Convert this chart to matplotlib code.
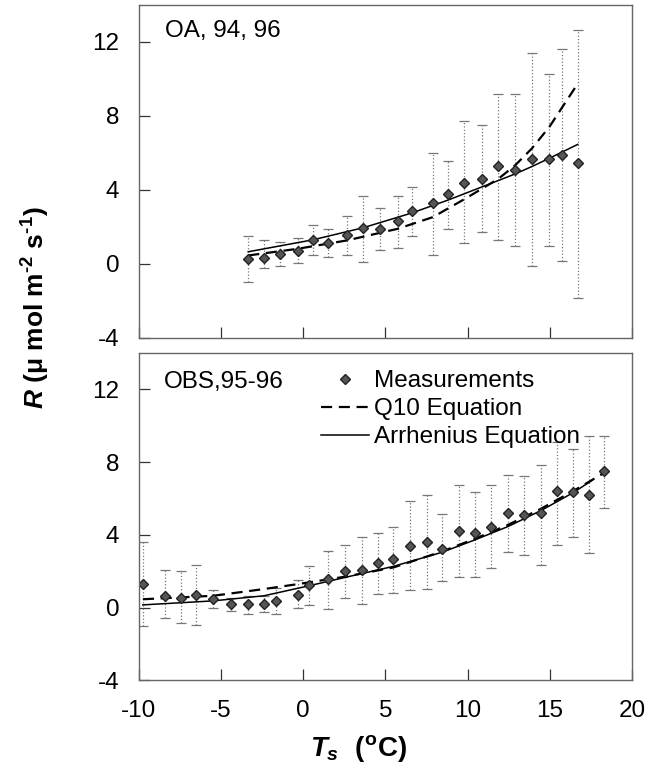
import numpy as np
import matplotlib
matplotlib.use('Agg')
import matplotlib.pyplot as plt

plt.rcParams['font.family'] = ['Liberation Sans', 'DejaVu Sans']
plt.rcParams['axes.unicode_minus'] = False
plt.rcParams['mathtext.fontset'] = 'custom'
plt.rcParams['mathtext.rm'] = 'Liberation Sans:bold'
plt.rcParams['mathtext.bf'] = 'Liberation Sans:bold'
plt.rcParams['mathtext.it'] = 'Liberation Sans:italic:bold'
plt.rcParams['mathtext.sf'] = 'Liberation Sans:bold'

# --- OA, 94, 96 (top panel) ---
oa_t = [-3.35, -2.37, -1.42, -0.34, 0.61, 1.52, 2.64, 3.65, 4.67, 5.74, 6.62,
        7.88, 8.83, 9.78, 10.86, 11.87, 12.88, 13.9, 14.97, 15.73, 16.7]
oa_r = [0.27, 0.34, 0.54, 0.70, 1.30, 1.12, 1.57, 1.93, 1.89, 2.31, 2.83,
        3.30, 3.75, 4.36, 4.59, 5.26, 5.08, 5.64, 5.68, 5.89, 5.44]
oa_hi = [1.5, 1.31, 1.2, 1.39, 2.07, 1.89, 2.56, 3.69, 3.01, 3.64, 4.14,
         6.0, 5.53, 7.69, 7.48, 9.15, 9.15, 11.39, 10.23, 11.58, 12.65]
oa_lo = [-0.96, -0.23, -0.14, 0.05, 0.49, 0.36, 0.49, 0.12, 0.77, 0.85, 1.5,
         0.45, 1.89, 1.12, 1.71, 1.30, 0.96, -0.14, 0.96, 0.15, -1.84]

oa_arr_t = [-3.35, 0.61, 3.65, 6.62, 8.83, 10.86, 12.88, 13.9, 14.97, 16.7]
oa_arr_r = [0.65, 1.30, 1.95, 2.75, 3.45, 4.15, 4.85, 5.25, 5.7, 6.45]
oa_q10_t = [-3.35, -0.34, 2.64, 5.74, 7.88, 9.84, 10.86, 11.87, 12.88, 13.9, 14.97, 16.7]
oa_q10_r = [0.45, 0.81, 1.26, 1.89, 2.52, 3.51, 4.05, 4.59, 5.31, 6.22, 7.39, 9.73]

# --- OBS, 95-96 (bottom panel) ---
obs_t = [-9.76, -8.39, -7.42, -6.50, -5.49, -4.37, -3.35, -2.40, -1.67, -0.35,
         0.35, 1.48, 2.54, 3.55, 4.53, 5.49, 6.52, 7.52, 8.43, 9.49, 10.43,
         11.42, 12.46, 13.46, 14.47, 15.41, 16.42, 17.38, 18.29]
obs_r = [1.29, 0.65, 0.55, 0.68, 0.46, 0.22, 0.22, 0.22, 0.37, 0.70,
         1.25, 1.57, 2.03, 2.08, 2.43, 2.67, 3.37, 3.59, 3.23, 4.24, 4.09,
         4.42, 5.19, 5.07, 5.19, 6.41, 6.35, 6.17, 7.50]
obs_hi = [3.59, 2.07, 1.99, 2.34, 0.96, 0.55, 0.65, 0.63, 1.10, 1.51,
          2.30, 3.13, 3.46, 3.87, 4.11, 4.42, 5.86, 6.21, 5.16, 6.72, 6.35,
          6.72, 7.31, 7.22, 7.87, 9.12, 8.71, 9.43, 9.43]
obs_lo = [-1.01, -0.59, -0.85, -0.96, -0.04, -0.18, -0.33, -0.24, -0.37, 0.0,
          0.15, -0.09, 0.52, 0.22, 0.77, 0.83, 0.96, 1.02, 1.44, 1.66, 1.71,
          2.18, 3.04, 2.91, 2.34, 3.46, 3.87, 2.98, 5.47]

obs_arr_t = [-9.76, -5.49, -2.40, 0.35, 2.54, 5.49, 8.43, 10.43, 12.46, 14.47, 16.42, 17.58]
obs_arr_r = [0.15, 0.37, 0.65, 1.2, 1.66, 2.27, 3.04, 3.72, 4.46, 5.34, 6.32, 7.0]
obs_q10_t = [-9.76, -5.49, -2.40, -0.35, 2.54, 5.49, 8.43, 10.43, 12.46, 14.47, 16.42, 18.29]
obs_q10_r = [0.46, 0.65, 1.02, 1.29, 1.70, 2.21, 3.08, 3.78, 4.55, 5.44, 6.41, 7.40]

xticks = [-10, -5, 0, 5, 10, 15, 20]
yticks = [-4, 0, 4, 8, 12]

fs = 17.5
fig = plt.figure(figsize=(6.68, 7.82), dpi=100)
ax1 = fig.add_axes([0.208, 0.568, 0.738, 0.426])
ax2 = fig.add_axes([0.208, 0.130, 0.738, 0.4185])


def panel(ax, t, r, lo, hi, at, ar, qt, qr):
    r = np.array(r)
    yerr = [r - np.array(lo), np.array(hi) - r]
    eb = ax.errorbar(t, r, yerr=yerr, fmt='none', ecolor='#777777',
                     elinewidth=0.9, capsize=3.5, capthick=0.9)
    eb[2][0].set_linestyle(':')
    ax.plot(qt, qr, color='black', lw=1.6, ls=(0, (5, 3)), label='Q10 Equation')
    ax.plot(at, ar, color='black', lw=1.1, label='Arrhenius Equation')
    ax.plot(t, r, ls='none', marker='D', ms=5, mfc='#555555', mec='#222222',
            mew=1.0, label='Measurements')
    ax.set_xlim(-10, 20)
    ax.set_ylim(-4, 14)
    ax.set_xticks(xticks)
    ax.set_yticks(yticks)
    ax.tick_params(direction='in', length=8, width=0.9, color='#333333',
                   labelsize=fs, pad=14, top=False, right=False)
    for s in ax.spines.values():
        s.set_color('#666666')
        s.set_linewidth(1.0)


panel(ax1, oa_t, oa_r, oa_lo, oa_hi, oa_arr_t, oa_arr_r, oa_q10_t, oa_q10_r)
panel(ax2, obs_t, obs_r, obs_lo, obs_hi, obs_arr_t, obs_arr_r, obs_q10_t, obs_q10_r)
ax1.set_xticklabels([])

ax1.text(-8.4, 12.6, 'OA, 94, 96', fontsize=fs, va='center', ha='left')
ax2.text(-8.5, 12.4, 'OBS,95-96', fontsize=fs, va='center', ha='left')

h, l = ax2.get_legend_handles_labels()
order = [2, 0, 1]
ax2.legend([h[i] for i in order], [l[i] for i in order], loc='upper left',
           bbox_to_anchor=(0.344, 0.985), frameon=False, fontsize=fs,
           handlelength=2.0, handletextpad=0.2, labelspacing=0.25, borderpad=0)

fig.text(0.537, 0.043, r'$\mathit{T}_{\mathit{s}}\ \ (\mathrm{^oC})$', fontsize=20,
         ha='center', va='center')
fig.text(0.053, 0.606, '$\\mathit{R}$ (\u03bc mol m$^{\u20102}$ s$^{\u20101}$)',
         fontsize=19, fontweight='bold', rotation=90, ha='center', va='center')

fig.savefig('out.png', dpi=100)
